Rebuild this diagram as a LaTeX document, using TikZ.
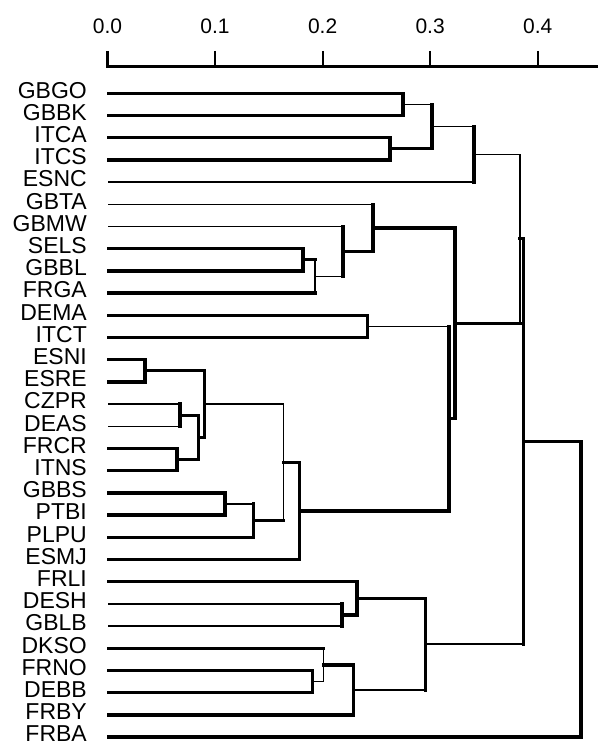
\documentclass[tikz,border=0pt]{standalone}
\usepackage{fontspec}
\setmainfont{Liberation Sans}
\usetikzlibrary{calc}

% #1 name of the merge point, #2 its height (x, px), #3 and #4 the two children,
% #5 style of the vertical bar that joins them
\newcommand\mergeat[5]{%
  \path let \p1=($(#3)!0.5!(#4)$) in (#2pt,\y1) coordinate (#1);
  \draw[#5] (#3 -| #1) -- (#4 -| #1);}
% horizontal branch from a child (#1) to the bar of its parent (#2), style #3
\newcommand\dbranch[3]{\draw[#3] (#1) -- (#1 -| #2);}

\begin{document}
\begin{tikzpicture}[x=1pt,y=-1pt,
  thk/.style={line width=3.3pt,line cap=rect},
  thn/.style={line width=1.5pt,line cap=rect},
  leaflabel/.style={anchor=base east,inner sep=0pt,font=\fontsize{23}{23}\selectfont},
  axlabel/.style={anchor=base,inner sep=0pt,font=\fontsize{21}{21}\selectfont},
  axisline/.style={line width=2.4pt},
  tickmark/.style={line width=2.2pt}]
\useasboundingbox (0,0) rectangle (598,743);

% ---- distance axis ----
\foreach \v/\lab in {0/0.0,1/0.1,2/0.2,3/0.3,4/0.4}{
  \node[axlabel] (tl\v) at ({107.5+107.55*\v},33.5) {\lab};
  \coordinate (tt\v) at ({107.5+107.55*\v},51);
  \coordinate (tb\v) at ({107.5+107.55*\v},66.7);
}
\coordinate (axend) at (598,66.7);
\draw[axisline] (tt0) -- (tb0) -- (axend);
\foreach \v in {1,...,4}{\draw[tickmark] (tt\v) -- (tb\v);}

% ---- leaves ----
\foreach \nm [count=\i from 0] in {GBGO,GBBK,ITCA,ITCS,ESNC,GBTA,GBMW,SELS,GBBL,FRGA,
    DEMA,ITCT,ESNI,ESRE,CZPR,DEAS,FRCR,ITNS,GBBS,PTBI,PLPU,ESMJ,FRLI,DESH,GBLB,
    DKSO,FRNO,DEBB,FRBY,FRBA}{
  \node[leaflabel] (t\i) at (87,{93.3+22.2*\i+4.8}) {\nm};
  \coordinate (L\i) at (108.5,{93.3+22.2*\i});
}

% ---- merges, bottom-up ----
\mergeat{g1}{403}{L0}{L1}{thk}
\mergeat{g2}{390}{L2}{L3}{thk}
\mergeat{g3}{432}{g1}{g2}{thk}
\mergeat{g4}{474}{g3}{L4}{thk}
\mergeat{u}{303}{L7}{L8}{thk}
\mergeat{v}{315}{u}{L9}{thn}
\mergeat{w}{343}{L6}{v}{thk}
\mergeat{xx}{373}{L5}{w}{thk}
\mergeat{y1}{367.5}{L10}{L11}{thk}
\mergeat{e1}{145}{L12}{L13}{thk}
\mergeat{e2}{180}{L14}{L15}{thk}
\mergeat{e3}{177}{L16}{L17}{thk}
\mergeat{t}{198.5}{e2}{e3}{thk}
\mergeat{s}{204.5}{e1}{t}{thk}
\mergeat{r}{225}{L18}{L19}{thk}
\mergeat{q}{253.3}{r}{L20}{thk}
\mergeat{p}{283.3}{s}{q}{thn}
\mergeat{o}{299.3}{p}{L21}{thk}
\mergeat{b}{449}{y1}{o}{thk}
\mergeat{a}{455}{xx}{b}{thk}
\mergeat{m1}{520}{g4}{a}{thn}
\mergeat{n}{342}{L23}{L24}{thk}
\mergeat{mm}{357}{L22}{n}{thk}
\mergeat{k}{312.7}{L26}{L27}{thk}
\mergeat{l}{323.3}{L25}{k}{thn}
\mergeat{j}{353.3}{l}{L28}{thk}
\mergeat{i}{425.7}{mm}{j}{thk}
\mergeat{m2}{523.3}{m1}{i}{thk}
\mergeat{root}{581}{m2}{L29}{thk}

% ---- horizontal branches ----
\dbranch{L0}{g1}{thk}   \dbranch{L1}{g1}{thk}
\dbranch{L2}{g2}{thk}   \dbranch{L3}{g2}{thk}
\dbranch{g1}{g3}{thn}   \dbranch{g2}{g3}{thk}
\dbranch{g3}{g4}{thn}   \dbranch{L4}{g4}{thn}
\dbranch{L7}{u}{thk}    \dbranch{L8}{u}{thk}
\dbranch{u}{v}{thk}     \dbranch{L9}{v}{thk}
\dbranch{L6}{w}{thn}    \dbranch{v}{w}{thn}
\dbranch{L5}{xx}{thn}   \dbranch{w}{xx}{thk}
\dbranch{L10}{y1}{thk}  \dbranch{L11}{y1}{thk}
\dbranch{L12}{e1}{thk}  \dbranch{L13}{e1}{thk}
\dbranch{L14}{e2}{thn}  \dbranch{L15}{e2}{thn}
\dbranch{L16}{e3}{thk}  \dbranch{L17}{e3}{thk}
\dbranch{e2}{t}{thk}    \dbranch{e3}{t}{thk}
\dbranch{e1}{s}{thk}    \dbranch{t}{s}{thk}
\dbranch{L18}{r}{thk}   \dbranch{L19}{r}{thk}
\dbranch{r}{q}{thn}     \dbranch{L20}{q}{thk}
\dbranch{s}{p}{thn}     \dbranch{q}{p}{thk}
\dbranch{p}{o}{thk}     \dbranch{L21}{o}{thk}
\dbranch{y1}{b}{thn}    \dbranch{o}{b}{thk}
\dbranch{xx}{a}{thk}    \dbranch{b}{a}{thk}
\dbranch{g4}{m1}{thn}   \dbranch{a}{m1}{thk}
\dbranch{L23}{n}{thn}   \dbranch{L24}{n}{thn}
\dbranch{L22}{mm}{thk}  \dbranch{n}{mm}{thk}
\dbranch{L26}{k}{thk}   \dbranch{L27}{k}{thk}
\dbranch{L25}{l}{thk}   \dbranch{k}{l}{thn}
\dbranch{l}{j}{thk}     \dbranch{L28}{j}{thk}
\dbranch{mm}{i}{thk}    \dbranch{j}{i}{thn}
\dbranch{m1}{m2}{thk}   \dbranch{i}{m2}{thn}
\dbranch{m2}{root}{thk} \dbranch{L29}{root}{thk}
\end{tikzpicture}
\end{document}
